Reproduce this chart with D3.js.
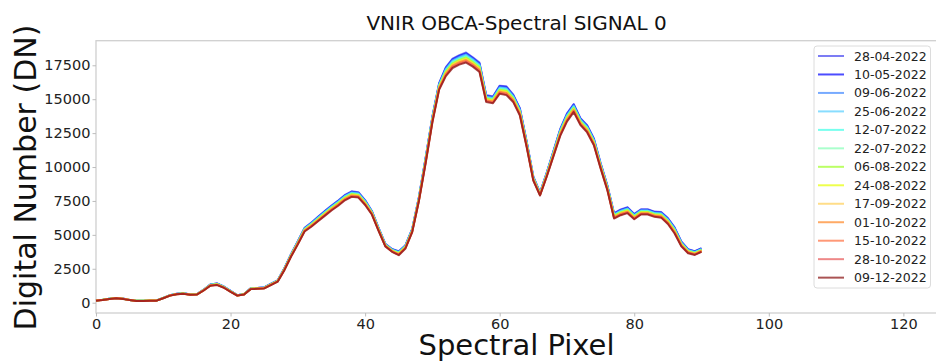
<!DOCTYPE html>
<html>
<head>
<meta charset="utf-8">
<script src="https://cdn.jsdelivr.net/npm/d3@7"></script>
<style>
  html, body { margin: 0; padding: 0; background: #fff; }
  svg { display: block; font-family: "DejaVu Sans", sans-serif; }
</style>
</head>
<body>
<svg id="chart" width="936" height="362"></svg>
<script>
// ---------------- data ----------------
const dates = ["28-04-2022","10-05-2022","09-06-2022","25-06-2022","12-07-2022","22-07-2022","06-08-2022","24-08-2022","17-09-2022","01-10-2022","15-10-2022","28-10-2022","09-12-2022"];
const colors = ["#4444ef","#0000ff","#3d86ff","#55ceff","#3dffe7","#86ffb6","#9eff24","#e7ff00","#ffce55","#ff8624","#ff6d3d","#e75555","#860c0c"];
const xTicks = [0,20,40,60,80,100,120];
const yTicks = [0,2500,5000,7500,10000,12500,15000,17500];

const s_28_04 = [174,224,294,354,304,202,142,142,162,162,354,556,656,698,616,636,960,1346,1420,1196,872,556,636,1072,1092,1134,1396,1646,2544,3592,4540,5514,5900,6336,6760,7160,7534,7946,8208,8146,7560,6764,5516,4342,3954,3788,4240,5440,7800,10696,13720,16180,17360,17996,18246,18444,18096,17696,15304,15204,16000,15948,15352,14340,11920,9300,8116,9600,11196,12804,13950,14650,13604,13090,12104,10296,8660,6596,6870,7044,6546,6884,6884,6714,6678,6244,5556,4510,3950,3796,4014];
const s_10_05 = [172,222,292,352,302,201,141,141,161,161,352,553,653,694,613,633,955,1338,1410,1188,866,553,633,1066,1086,1127,1388,1638,2532,3576,4520,5492,5875,6308,6730,7130,7502,7913,8174,8113,7530,6742,5498,4326,3937,3764,4220,5420,7775,10663,13685,16140,17305,17938,18188,18382,18038,17638,15262,15162,15950,15894,15306,14295,11885,9275,8098,9575,11163,12762,13900,14600,13562,13045,12062,10263,8630,6563,6835,7007,6513,6852,6852,6682,6644,6207,5518,4480,3925,3773,3992];
const s_09_06 = [170,220,290,350,300,200,140,140,160,160,350,550,650,690,610,630,950,1330,1400,1180,860,550,630,1060,1080,1120,1380,1630,2520,3560,4500,5470,5850,6280,6700,7100,7470,7880,8140,8080,7500,6720,5480,4310,3920,3740,4200,5400,7750,10630,13650,16100,17250,17880,18130,18320,17980,17580,15220,15120,15900,15840,15260,14250,11850,9250,8080,9550,11130,12720,13850,14550,13520,13000,12020,10230,8600,6530,6800,6970,6480,6820,6820,6650,6610,6170,5480,4450,3900,3750,3970];
const s_25_06 = [168,218,288,348,298,199,139,139,159,159,348,547,647,686,607,627,945,1322,1390,1172,854,547,627,1054,1074,1113,1372,1622,2508,3544,4480,5448,5825,6252,6670,7070,7438,7847,8106,8047,7470,6698,5462,4294,3903,3716,4180,5380,7725,10597,13615,16060,17195,17822,18072,18258,17922,17522,15178,15078,15850,15786,15214,14205,11815,9225,8062,9525,11097,12678,13800,14500,13478,12955,11978,10197,8570,6497,6765,6933,6447,6788,6788,6618,6576,6133,5442,4420,3875,3727,3948];
const s_12_07 = [166,216,286,346,296,198,138,138,158,158,346,544,644,682,604,624,940,1314,1380,1164,848,544,624,1048,1068,1106,1364,1614,2496,3528,4460,5426,5800,6224,6640,7040,7406,7814,8072,8014,7440,6676,5444,4278,3886,3692,4160,5360,7700,10564,13580,16020,17140,17764,18014,18196,17864,17464,15136,15036,15800,15732,15168,14160,11780,9200,8044,9500,11064,12636,13750,14450,13436,12910,11936,10164,8540,6464,6730,6896,6414,6756,6756,6586,6542,6096,5404,4390,3850,3704,3926];
const s_22_07 = [164,214,284,344,294,197,137,137,157,157,344,541,641,678,601,621,935,1306,1370,1156,842,541,621,1042,1062,1099,1356,1606,2484,3512,4440,5404,5775,6196,6610,7010,7374,7781,8038,7981,7410,6654,5426,4262,3869,3668,4140,5340,7675,10531,13545,15980,17085,17706,17956,18134,17806,17406,15094,14994,15750,15678,15122,14115,11745,9175,8026,9475,11031,12594,13700,14400,13394,12865,11894,10131,8510,6431,6695,6859,6381,6724,6724,6554,6508,6059,5366,4360,3825,3681,3904];
const s_06_08 = [162,212,282,342,292,196,136,136,156,156,342,538,638,674,598,618,930,1298,1360,1148,836,538,618,1036,1056,1092,1348,1598,2472,3496,4420,5382,5750,6168,6580,6980,7342,7748,8004,7948,7380,6632,5408,4246,3852,3644,4120,5320,7650,10498,13510,15940,17030,17648,17898,18072,17748,17348,15052,14952,15700,15624,15076,14070,11710,9150,8008,9450,10998,12552,13650,14350,13352,12820,11852,10098,8480,6398,6660,6822,6348,6692,6692,6522,6474,6022,5328,4330,3800,3658,3882];
const s_24_08 = [160,210,280,340,290,195,135,135,155,155,340,535,635,670,595,615,925,1290,1350,1140,830,535,615,1030,1050,1085,1340,1590,2460,3480,4400,5360,5725,6140,6550,6950,7310,7715,7970,7915,7350,6610,5390,4230,3835,3620,4100,5300,7625,10465,13475,15900,16975,17590,17840,18010,17690,17290,15010,14910,15650,15570,15030,14025,11675,9125,7990,9425,10965,12510,13600,14300,13310,12775,11810,10065,8450,6365,6625,6785,6315,6660,6660,6490,6440,5985,5290,4300,3775,3635,3860];
const s_17_09 = [158,208,278,338,288,194,134,134,154,154,338,532,632,666,592,612,920,1282,1340,1132,824,532,612,1024,1044,1078,1332,1582,2448,3464,4380,5338,5700,6112,6520,6920,7278,7682,7936,7882,7320,6588,5372,4214,3818,3596,4080,5280,7600,10432,13440,15860,16920,17532,17782,17948,17632,17232,14968,14868,15600,15516,14984,13980,11640,9100,7972,9400,10932,12468,13550,14250,13268,12730,11768,10032,8420,6332,6590,6748,6282,6628,6628,6458,6406,5948,5252,4270,3750,3612,3838];
const s_01_10 = [156,206,276,336,286,193,133,133,153,153,336,529,629,662,589,609,915,1274,1330,1124,818,529,609,1018,1038,1071,1324,1574,2436,3448,4360,5316,5675,6084,6490,6890,7246,7649,7902,7849,7290,6566,5354,4198,3801,3572,4060,5260,7575,10399,13405,15820,16865,17474,17724,17886,17574,17174,14926,14826,15550,15462,14938,13935,11605,9075,7954,9375,10899,12426,13500,14200,13226,12685,11726,9999,8390,6299,6555,6711,6249,6596,6596,6426,6372,5911,5214,4240,3725,3589,3816];
const s_15_10 = [154,204,274,334,284,192,132,132,152,152,334,526,626,658,586,606,910,1266,1320,1116,812,526,606,1012,1032,1064,1316,1566,2424,3432,4340,5294,5650,6056,6460,6860,7214,7616,7868,7816,7260,6544,5336,4182,3784,3548,4040,5240,7550,10366,13370,15780,16810,17416,17666,17824,17516,17116,14884,14784,15500,15408,14892,13890,11570,9050,7936,9350,10866,12384,13450,14150,13184,12640,11684,9966,8360,6266,6520,6674,6216,6564,6564,6394,6338,5874,5176,4210,3700,3566,3794];
const s_28_10 = [152,202,272,332,282,191,131,131,151,151,332,523,623,654,583,603,905,1258,1310,1108,806,523,603,1006,1026,1057,1308,1558,2412,3416,4320,5272,5625,6028,6430,6830,7182,7583,7834,7783,7230,6522,5318,4166,3767,3524,4020,5220,7525,10333,13335,15740,16755,17358,17608,17762,17458,17058,14842,14742,15450,15354,14846,13845,11535,9025,7918,9325,10833,12342,13400,14100,13142,12595,11642,9933,8330,6233,6485,6637,6183,6532,6532,6362,6304,5837,5138,4180,3675,3543,3772];
const s_09_12 = [150,200,270,330,280,190,130,130,150,150,330,520,620,650,580,600,900,1250,1300,1100,800,520,600,1000,1020,1050,1300,1550,2400,3400,4300,5250,5600,6000,6400,6800,7150,7550,7800,7750,7200,6500,5300,4150,3750,3500,4000,5200,7500,10300,13300,15700,16700,17300,17550,17700,17400,17000,14800,14700,15400,15300,14800,13800,11500,9000,7900,9300,10800,12300,13350,14050,13100,12550,11600,9900,8300,6200,6450,6600,6150,6500,6500,6330,6270,5800,5100,4150,3650,3520,3750];

const seriesValues = [s_28_04,s_10_05,s_09_06,s_25_06,s_12_07,s_22_07,s_06_08,s_24_08,s_17_09,s_01_10,s_15_10,s_28_10,s_09_12];

// ---------------- chart ----------------
const svg = d3.select("#chart");
const L = 96, R = 937, T = 40.7, B = 313;

const x = d3.scaleLinear().domain([0, 125]).range([L, R]);
const y = d3.scaleLinear().domain([-760, 19313]).range([B, T]);

// frame (spines)
svg.append("rect")
  .attr("x", L).attr("y", T).attr("width", R - L).attr("height", B - T)
  .attr("fill", "none").attr("stroke", "#cfcfcf").attr("stroke-width", 1.3);

// axes
const xAxis = d3.axisBottom(x).tickValues(xTicks).tickFormat(d3.format("d")).tickSize(3.5).tickPadding(2.5);
const yAxis = d3.axisLeft(y).tickValues(yTicks).tickFormat(d3.format("d")).tickSize(3.5).tickPadding(2);

const gx = svg.append("g").attr("transform", `translate(0,${B})`).call(xAxis);
const gy = svg.append("g").attr("transform", `translate(${L},0)`).call(yAxis);
[gx, gy].forEach(g => {
  g.select(".domain").remove();
  g.selectAll(".tick line").attr("stroke", "#bdbdbd").attr("stroke-width", 1);
  g.selectAll(".tick text").attr("fill", "#222").style("font-size", "14.5px")
    .style("font-family", "'DejaVu Sans', sans-serif");
});

// lines
const line = d3.line().x((d, i) => x(i)).y(d => y(d));
const gLines = svg.append("g");
seriesValues.forEach((vals, k) => {
  gLines.append("path")
    .datum(vals)
    .attr("d", line)
    .attr("fill", "none")
    .attr("stroke", colors[k])
    .attr("stroke-opacity", 0.7)
    .attr("stroke-width", 2)
    .attr("stroke-linejoin", "round");
});

// title and labels
svg.append("text").attr("x", 516.5).attr("y", 30).attr("text-anchor", "middle")
  .style("font-size", "20px").attr("fill", "#111").text("VNIR OBCA-Spectral SIGNAL 0");
svg.append("text").attr("x", 516.5).attr("y", 355).attr("text-anchor", "middle")
  .style("font-size", "29px").attr("fill", "#111").text("Spectral Pixel");
svg.append("text").attr("transform", "translate(36,177.5) rotate(-90)").attr("text-anchor", "middle")
  .style("font-size", "30px").attr("fill", "#111").text("Digital Number (DN)");

// legend
const lg = svg.append("g");
lg.append("rect").attr("x", 814).attr("y", 46).attr("width", 116.5).attr("height", 242)
  .attr("rx", 3).attr("fill", "#fff").attr("fill-opacity", 0.8)
  .attr("stroke", "#dcdcdc").attr("stroke-width", 1);
dates.forEach((dt, k) => {
  const yy = 56 + k * 18.47;
  lg.append("line").attr("x1", 818).attr("x2", 844).attr("y1", yy).attr("y2", yy)
    .attr("stroke", colors[k]).attr("stroke-opacity", 0.7).attr("stroke-width", 2);
  lg.append("text").attr("x", 854).attr("y", yy).attr("dy", "0.36em")
    .style("font-size", "12.5px").attr("fill", "#222").text(dt);
});
</script>
</body>
</html>
